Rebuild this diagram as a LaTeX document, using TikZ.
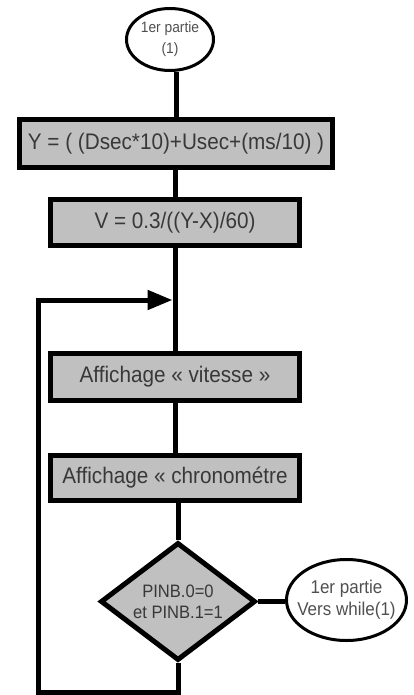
\documentclass[tikz,border=0pt]{standalone}
\usepackage{fontspec}
\setmainfont{Liberation Sans}[FakeStretch=0.92]
\usetikzlibrary{shapes.geometric,arrows.meta}
\definecolor{boxgray}{HTML}{C0C0C0}
\definecolor{inkgray}{HTML}{383838}
\definecolor{softink}{HTML}{505050}
\begin{document}
\begin{tikzpicture}[x=1pt,y=-1pt,
  procbox/.style={draw=black,line width=5pt,fill=boxgray,rectangle,inner sep=0pt,
    text=inkgray,font=\fontsize{22.5}{24}\selectfont},
  term/.style={draw=black,line width=3pt,fill=white,ellipse,inner sep=0pt},
  termtext/.style={align=center,text=softink,inner sep=0pt},
  test/.style={draw=black,line width=5pt,fill=boxgray,diamond,inner sep=0pt,
    shape aspect=1.3,align=center,text=inkgray,font=\fontsize{18}{21}\selectfont},
  link/.style={line width=5pt}]
\useasboundingbox (0,0) rectangle (413,695);

% start terminal
\node[term,minimum width=87pt,minimum height=62pt] (start) at (170,39.5) {};
\node[termtext,font=\fontsize{15}{21}\selectfont] (starttxt) at (start) {1er partie\\(1)};

% processing steps
\node[procbox,minimum width=313pt,minimum height=48pt] (calcY) at (176,143.5)
  {Y = ( (Dsec*10)+Usec+(ms/10) )};
\node[procbox,minimum width=249pt,minimum height=46pt] (calcV) at (175,222.5)
  {V = 0.3/((Y-X)/60)};
\node[procbox,minimum width=249pt,minimum height=47pt] (showV) at (175,377)
  {Affichage « vitesse »};
\node[procbox,minimum width=249pt,minimum height=45pt] (showC) at (175,478)
  {Affichage « chronométre};

% test
\node[test,minimum width=155pt,minimum height=118pt] (test) at (178,601.5)
  {PINB.0=0\\et PINB.1=1};

% exit terminal
\node[term,minimum width=120pt,minimum height=81pt] (exit) at (346.5,600) {};
\node[termtext,font=\fontsize{18.5}{22}\selectfont] (exittxt) at (exit) {1er partie\\Vers while(1)};

% loop-back points
\coordinate (loopBR) at (178,692);
\coordinate (loopBL) at (38,692);
\coordinate (loopTL) at (38,300);
\coordinate (join) at (175,300);

% main trunk
\draw[link] (start.south -| calcY.north) -- (calcY.north);
\draw[link] (calcY.south -| calcV.north) -- (calcV.north);
\draw[link] (calcV.south) -- (showV.north);
\draw[link] (showV.south) -- (showC.north);
\draw[link] (showC.south -| test.north) -- (test.north);

% exit branch
\draw[link] (test.east) -- (test.east -| exit.west);

% loop back
\draw[link,-{Triangle[length=25pt,width=19pt]}]
  (test.south) |- (loopBL) -- (loopTL) -- ([xshift=-2.5pt]join);
\end{tikzpicture}
\end{document}
